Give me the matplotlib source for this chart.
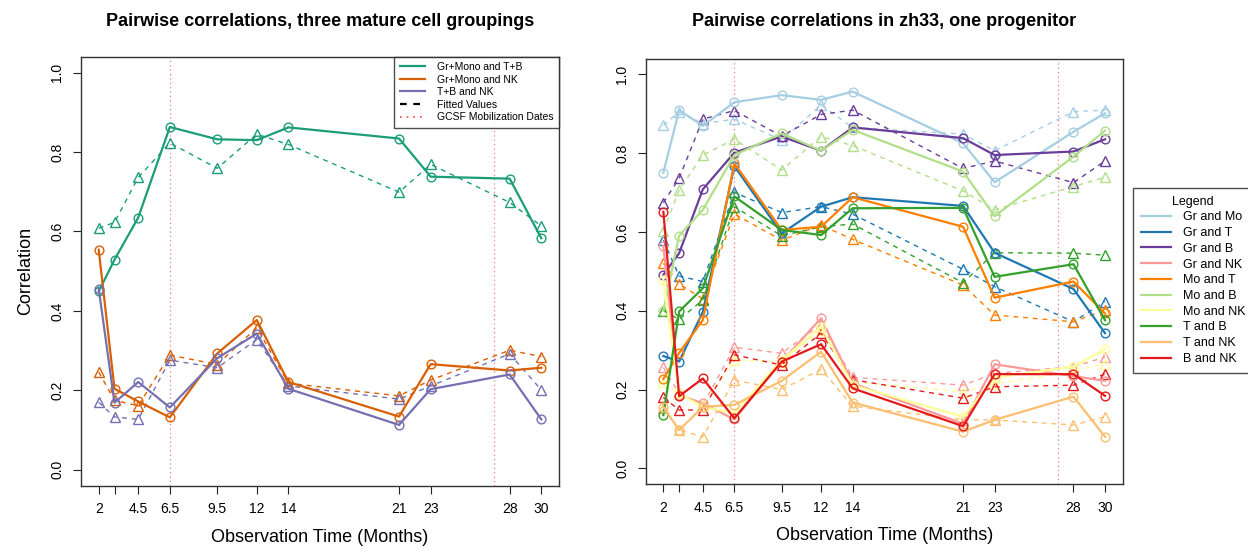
import matplotlib
matplotlib.use("Agg")
import matplotlib.pyplot as plt
from matplotlib import font_manager
from matplotlib.lines import Line2D

# observation months
months = [2, 3, 4.5, 6.5, 9.5, 12, 14, 21, 23, 28, 30]
tick_labels = ["2", "", "4.5", "6.5", "9.5", "12", "14", "21", "23", "28", "30"]
gcsf_dates = [6.5, 27]

# left panel: three mature cell groupings (observed, fitted)
left_names = ["Gr+Mono and T+B", "Gr+Mono and NK", "T+B and NK"]
left_colors = ["#1B9E77", "#D95F02", "#7570B3"]
grmono_tb = [0.449, 0.529, 0.635, 0.863, 0.832, 0.830, 0.862, 0.834, 0.738, 0.733, 0.583]
grmono_tb_fit = [0.608, 0.623, 0.736, 0.823, 0.759, 0.845, 0.819, 0.699, 0.769, 0.673, 0.614]
grmono_nk = [0.554, 0.204, 0.172, 0.132, 0.293, 0.377, 0.221, 0.134, 0.266, 0.250, 0.257]
grmono_nk_fit = [0.246, 0.175, 0.161, 0.289, 0.265, 0.358, 0.218, 0.186, 0.226, 0.301, 0.285]
tb_nk = [0.456, 0.169, 0.221, 0.157, 0.281, 0.343, 0.204, 0.113, 0.203, 0.240, 0.127]
tb_nk_fit = [0.170, 0.133, 0.127, 0.276, 0.257, 0.328, 0.211, 0.178, 0.211, 0.292, 0.201]
left_obs = [grmono_tb, grmono_nk, tb_nk]
left_fit = [grmono_tb_fit, grmono_nk_fit, tb_nk_fit]

# right panel: zh33, one progenitor
right_names = ["Gr and Mo", "Gr and T", "Gr and B", "Gr and NK", "Mo and T",
               "Mo and B", "Mo and NK", "T and B", "T and NK", "B and NK"]
right_colors = ["#A6CEE3", "#1F78B4", "#6A3D9A", "#FB9A99", "#FF7F00",
                "#B2DF8A", "#FFFF99", "#33A02C", "#FDBF6F", "#E31A1C"]
gr_mo = [0.750, 0.909, 0.869, 0.929, 0.947, 0.935, 0.956, 0.825, 0.726, 0.854, 0.901]
gr_mo_fit = [0.870, 0.905, 0.875, 0.886, 0.833, 0.922, 0.865, 0.848, 0.806, 0.905, 0.909]
gr_t = [0.285, 0.271, 0.397, 0.767, 0.596, 0.664, 0.688, 0.666, 0.547, 0.455, 0.343]
gr_t_fit = [0.579, 0.488, 0.474, 0.700, 0.649, 0.664, 0.645, 0.505, 0.461, 0.372, 0.423]
gr_b = [0.491, 0.546, 0.708, 0.801, 0.842, 0.806, 0.865, 0.838, 0.795, 0.804, 0.835]
gr_b_fit = [0.674, 0.736, 0.886, 0.908, 0.843, 0.898, 0.909, 0.761, 0.780, 0.725, 0.780]
gr_nk = [0.564, 0.186, 0.165, 0.124, 0.271, 0.381, 0.216, 0.113, 0.264, 0.234, 0.222]
gr_nk_fit = [0.256, 0.190, 0.160, 0.307, 0.292, 0.366, 0.231, 0.211, 0.241, 0.258, 0.282]
mo_t = [0.227, 0.293, 0.376, 0.774, 0.605, 0.613, 0.688, 0.613, 0.433, 0.474, 0.393]
mo_t_fit = [0.520, 0.468, 0.430, 0.645, 0.579, 0.617, 0.581, 0.465, 0.389, 0.372, 0.402]
mo_b = [0.400, 0.590, 0.656, 0.795, 0.850, 0.806, 0.859, 0.753, 0.640, 0.791, 0.857]
mo_b_fit = [0.603, 0.706, 0.795, 0.835, 0.757, 0.842, 0.819, 0.704, 0.656, 0.715, 0.739]
mo_nk = [0.478, 0.190, 0.156, 0.140, 0.275, 0.359, 0.211, 0.131, 0.230, 0.258, 0.302]
mo_nk_fit = [0.220, 0.190, 0.160, 0.275, 0.270, 0.351, 0.220, 0.194, 0.215, 0.245, 0.266]
t_b = [0.135, 0.398, 0.457, 0.690, 0.605, 0.592, 0.660, 0.661, 0.486, 0.518, 0.376]
t_b_fit = [0.400, 0.378, 0.427, 0.664, 0.590, 0.613, 0.620, 0.471, 0.547, 0.546, 0.541]
t_nk = [0.156, 0.097, 0.156, 0.161, 0.222, 0.296, 0.167, 0.093, 0.123, 0.182, 0.080]
t_nk_fit = [0.152, 0.097, 0.080, 0.224, 0.200, 0.251, 0.158, 0.123, 0.123, 0.110, 0.131]
b_nk = [0.651, 0.183, 0.228, 0.127, 0.271, 0.315, 0.203, 0.107, 0.239, 0.239, 0.184]
b_nk_fit = [0.180, 0.148, 0.148, 0.288, 0.262, 0.343, 0.225, 0.178, 0.207, 0.211, 0.239]
right_obs = [gr_mo, gr_t, gr_b, gr_nk, mo_t, mo_b, mo_nk, t_b, t_nk, b_nk]
right_fit = [gr_mo_fit, gr_t_fit, gr_b_fit, gr_nk_fit, mo_t_fit, mo_b_fit,
             mo_nk_fit, t_b_fit, t_nk_fit, b_nk_fit]

installed = {f.name for f in font_manager.fontManager.ttflist}
narrow = "Liberation Sans Narrow" if "Liberation Sans Narrow" in installed else "Liberation Sans"
plt.rcParams["font.family"] = ["Liberation Sans", "DejaVu Sans"]

fig = plt.figure(figsize=(12.48, 5.51), dpi=100)
W, H = 1248, 551
ax1 = fig.add_axes([81 / W, 1 - 485.7 / H, 478 / W, 429 / H])
ax2 = fig.add_axes([645.7 / W, 1 - 484.1 / H, 477 / W, 425.6 / H])

DASH = (0, (3.5, 3.5))


def draw_panel(ax, obs, fit, colors):
    for d in gcsf_dates:
        ax.axvline(d, color="#FF5050", lw=0.9, ls=(0, (1, 2.5)), alpha=0.75, zorder=1)
    for ys, c in zip(fit, colors):
        ax.plot(months, ys, color=c, lw=1.0, ls=DASH, marker="^", ms=7.5,
                mfc="none", mew=1.0, zorder=2)
    for ys, c in zip(obs, colors):
        ax.plot(months, ys, color=c, lw=1.6, marker="o", ms=6.3,
                mfc="none", mew=1.0, zorder=3)
    ax.set_xlim(0.88, 31.12)
    ax.set_ylim(-0.04, 1.04)
    ax.set_xticks(months)
    ax.set_xticklabels(tick_labels, fontfamily=narrow, fontsize=10)
    ax.set_yticks([0, 0.2, 0.4, 0.6, 0.8, 1.0])
    ax.set_yticklabels(["0.0", "0.2", "0.4", "0.6", "0.8", "1.0"], rotation=90,
                       va="center", fontfamily=narrow, fontsize=10)
    ax.tick_params(length=6, width=0.8, pad=6, color="#222222")
    for s in ax.spines.values():
        s.set_color("#333333")
        s.set_linewidth(1.0)
    ax.set_xlabel("Observation Time (Months)", fontfamily=narrow, fontsize=13, labelpad=9)


draw_panel(ax1, left_obs, left_fit, left_colors)
draw_panel(ax2, right_obs, right_fit, right_colors)
ax1.set_ylabel("Correlation", fontsize=13, labelpad=12)

fig.text(320 / W, 1 - 22 / H, "Pairwise correlations, three mature cell groupings",
         ha="center", va="center", fontsize=13, fontweight="bold")
fig.text(884 / W, 1 - 22 / H, "Pairwise correlations in zh33, one progenitor",
         ha="center", va="center", fontsize=13, fontweight="bold")

# left legend
h1 = [Line2D([], [], color=c, lw=1.6) for c in left_colors]
h1.append(Line2D([], [], color="black", lw=1.6, ls=(0, (3, 3))))
h1.append(Line2D([], [], color="#FF4040", lw=1.2, ls=(0, (1, 3))))
leg1 = ax1.legend(h1, left_names + ["Fitted Values", "GCSF Mobilization Dates"],
                  loc="upper right", fontsize=7.5, frameon=True, fancybox=False,
                  edgecolor="#222222", borderaxespad=0, handlelength=2.4,
                  labelspacing=0.25, borderpad=0.5, handletextpad=1.2)
leg1.get_frame().set_linewidth(1.0)

# right legend
h2 = [Line2D([], [], color=c, lw=1.6) for c in right_colors]
leg2 = ax2.legend(h2, right_names, title="Legend", loc="upper left",
                  bbox_to_anchor=(1133 / W, 1 - 188 / H), bbox_transform=fig.transFigure,
                  fontsize=9, title_fontsize=9, frameon=True, fancybox=False,
                  edgecolor="#222222", borderaxespad=0, handlelength=2.4,
                  labelspacing=0.3, borderpad=0.6, handletextpad=1.0)
leg2.get_frame().set_linewidth(1.0)

fig.savefig("out.png", dpi=100)
